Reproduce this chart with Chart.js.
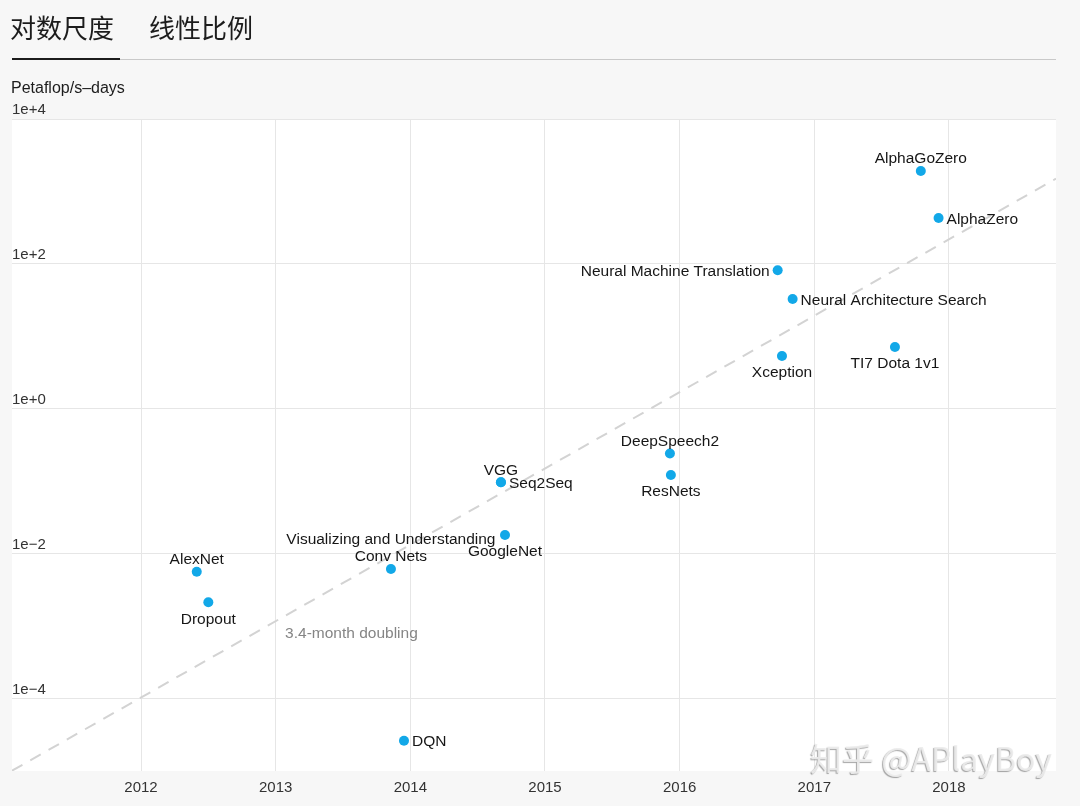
<!DOCTYPE html>
<html>
<head>
<meta charset="utf-8">
<script src="https://cdn.jsdelivr.net/npm/chart.js@4.4.1/dist/chart.umd.min.js"></script>
<style>
  html, body { margin: 0; padding: 0; background: #f7f7f7; }
  body { width: 1080px; height: 806px; position: relative; overflow: hidden; font-family: "Liberation Sans", Arial, sans-serif; }
  #c { position: absolute; left: 0; top: 0; }
  .tab { position: absolute; top: 9px; font-family: "Noto Sans CJK SC", sans-serif; font-size: 26px; line-height: 36px; color: #1c1c1c; }
  #tab1 { left: 10px; }
  #tab2 { left: 149px; }
  #rule { position: absolute; left: 12px; top: 59px; width: 1044px; height: 1px; background: #c9c9c9; }
  #active { position: absolute; left: 12px; top: 58px; width: 108px; height: 2px; background: #1c1c1c; }
  #unit { position: absolute; left: 11px; top: 79px; font-size: 16px; line-height: 17px; color: #1c1c1c; }
  #wm { position: absolute; left: 810px; top: 736px; font-family: "Noto Sans CJK SC", sans-serif; font-size: 32px; line-height: 42px; color: rgba(236,236,236,0.92); text-shadow: -1px 1px 1px rgba(0,0,0,0.35); white-space: nowrap; }
</style>
</head>
<body>
<canvas id="c" width="1080" height="806"></canvas>
<div class="tab" id="tab1">对数尺度</div>
<div class="tab" id="tab2">线性比例</div>
<div id="rule"></div>
<div id="active"></div>
<div id="unit">Petaflop/s–days</div>
<div id="wm">知乎 @APlayBoy</div>
<script>
// ---- data ----
const MODELS = [
  'AlexNet', 'Dropout', 'DQN', 'Visualizing and Understanding|Conv Nets', 'GoogleNet',
  'VGG', 'Seq2Seq', 'DeepSpeech2', 'ResNets', 'Xception',
  'Neural Machine Translation', 'Neural Architecture Search', 'TI7 Dota 1v1', 'AlphaGoZero', 'AlphaZero'
];
const YEARS = [
  2012.414, 2012.500, 2013.953, 2013.856, 2014.703,
  2014.673, 2014.673, 2015.928, 2015.935, 2016.760,
  2016.728, 2016.839, 2017.599, 2017.791, 2017.923
];
const PFS_DAYS = [
  0.00564, 0.00213, 0.0000262, 0.00615, 0.0181,
  0.0967, 0.0967, 0.2415, 0.122, 5.36,
  81.6, 32.8, 7.13, 1918, 430
];
const LABEL_POS = [
  'top', 'bottom', 'right', 'top', 'bottom',
  'top', 'right', 'top', 'bottom', 'bottom',
  'left', 'right', 'bottom', 'top', 'right'
];
const X_TICKS = [2012, 2013, 2014, 2015, 2016, 2017, 2018];
const X_MIN = 2011.042, X_MAX = 2018.795;
const Y_TICKS = [1e4, 1e2, 1, 1e-2, 1e-4];
const Y_TICK_LABELS = ['1e+4', '1e+2', '1e+0', '1e\u22122', '1e\u22124'];
const Y_MIN = 1e-5, Y_MAX = 1e4;
const TREND_X = [2011.042, 2018.795];
const TREND_Y = [1.01e-5, 1500];
const TREND_LABEL = '3.4-month doubling';
const TREND_LABEL_AT = { x: 2013.07, y: 0.00078 };

// ---- styles ----
const FONT = '"Liberation Sans", Arial, sans-serif';
const POINT_COLOR = '#12a8e8';
const GRID_COLOR = '#e6e6e6';

const bgPlugin = {
  id: 'areaBg',
  beforeDraw(chart) {
    const { ctx, chartArea: a } = chart;
    ctx.save();
    ctx.fillStyle = '#ffffff';
    ctx.fillRect(a.left, a.top, a.right - a.left, a.bottom - a.top);
    ctx.restore();
  }
};

const labelPlugin = {
  id: 'pointLabels',
  afterDatasetsDraw(chart) {
    const ctx = chart.ctx;
    const meta = chart.getDatasetMeta(0);
    ctx.save();
    ctx.font = '15.5px ' + FONT;
    ctx.fillStyle = '#161616';
    meta.data.forEach((pt, i) => {
      const lines = MODELS[i].split('|');
      const pos = LABEL_POS[i];
      const x = pt.x, y = pt.y;
      ctx.textBaseline = 'middle';
      if (pos === 'top') {
        ctx.textAlign = 'center';
        lines.forEach((ln, k) => {
          ctx.fillText(ln, x, y - 12 - (lines.length - 1 - k) * 17);
        });
      } else if (pos === 'bottom') {
        ctx.textAlign = 'center';
        lines.forEach((ln, k) => ctx.fillText(ln, x, y + 17 + k * 17));
      } else if (pos === 'right') {
        ctx.textAlign = 'left';
        ctx.fillText(lines[0], x + 8, y + 1.5);
      } else {
        ctx.textAlign = 'right';
        ctx.fillText(lines[0], x - 8, y + 1.5);
      }
    });
    // trend annotation
    const xs = chart.scales.x, ys = chart.scales.y;
    ctx.font = '15.5px ' + FONT;
    ctx.fillStyle = '#858585';
    ctx.textAlign = 'left';
    ctx.textBaseline = 'middle';
    ctx.fillText(TREND_LABEL, xs.getPixelForValue(TREND_LABEL_AT.x), ys.getPixelForValue(TREND_LABEL_AT.y));
    ctx.restore();
  }
};

new Chart(document.getElementById('c'), {
  type: 'scatter',
  data: {
    datasets: [
      {
        label: 'models',
        data: YEARS.map((x, i) => ({ x: x, y: PFS_DAYS[i] })),
        backgroundColor: POINT_COLOR,
        borderWidth: 0,
        pointRadius: 5,
        pointHoverRadius: 5
      },
      {
        label: 'trend',
        data: TREND_X.map((x, i) => ({ x: x, y: TREND_Y[i] })),
        showLine: true,
        borderColor: '#d3d3d3',
        borderWidth: 2,
        borderDash: [12, 9],
        pointRadius: 0,
        fill: false
      }
    ]
  },
  options: {
    responsive: false,
    devicePixelRatio: 1,
    animation: false,
    events: [],
    layout: { padding: { left: 12, right: 24, top: 119, bottom: 0 } },
    plugins: { legend: { display: false }, tooltip: { enabled: false } },
    scales: {
      x: {
        type: 'linear',
        min: X_MIN,
        max: X_MAX,
        afterBuildTicks(scale) { scale.ticks = X_TICKS.map(v => ({ value: v })); },
        afterFit(scale) { scale.height = 35; },
        grid: { color: GRID_COLOR, drawTicks: false, lineWidth: 1 },
        border: { display: false },
        ticks: {
          autoSkip: false,
          maxRotation: 0,
          padding: 8,
          color: '#333333',
          font: { family: FONT, size: 15 },
          callback: v => String(v)
        }
      },
      y: {
        type: 'logarithmic',
        min: Y_MIN,
        max: Y_MAX,
        afterBuildTicks(scale) { scale.ticks = Y_TICKS.map(v => ({ value: v })); },
        afterFit(scale) { scale.width = 0; },
        grid: { color: GRID_COLOR, drawTicks: false, lineWidth: 1 },
        border: { display: false },
        ticks: {
          autoSkip: false,
          mirror: true,
          padding: 0,
          labelOffset: -9,
          color: '#333333',
          font: { family: FONT, size: 15 },
          callback: v => Y_TICK_LABELS[Y_TICKS.indexOf(v)]
        }
      }
    }
  },
  plugins: [bgPlugin, labelPlugin]
});
</script>
</body>
</html>
